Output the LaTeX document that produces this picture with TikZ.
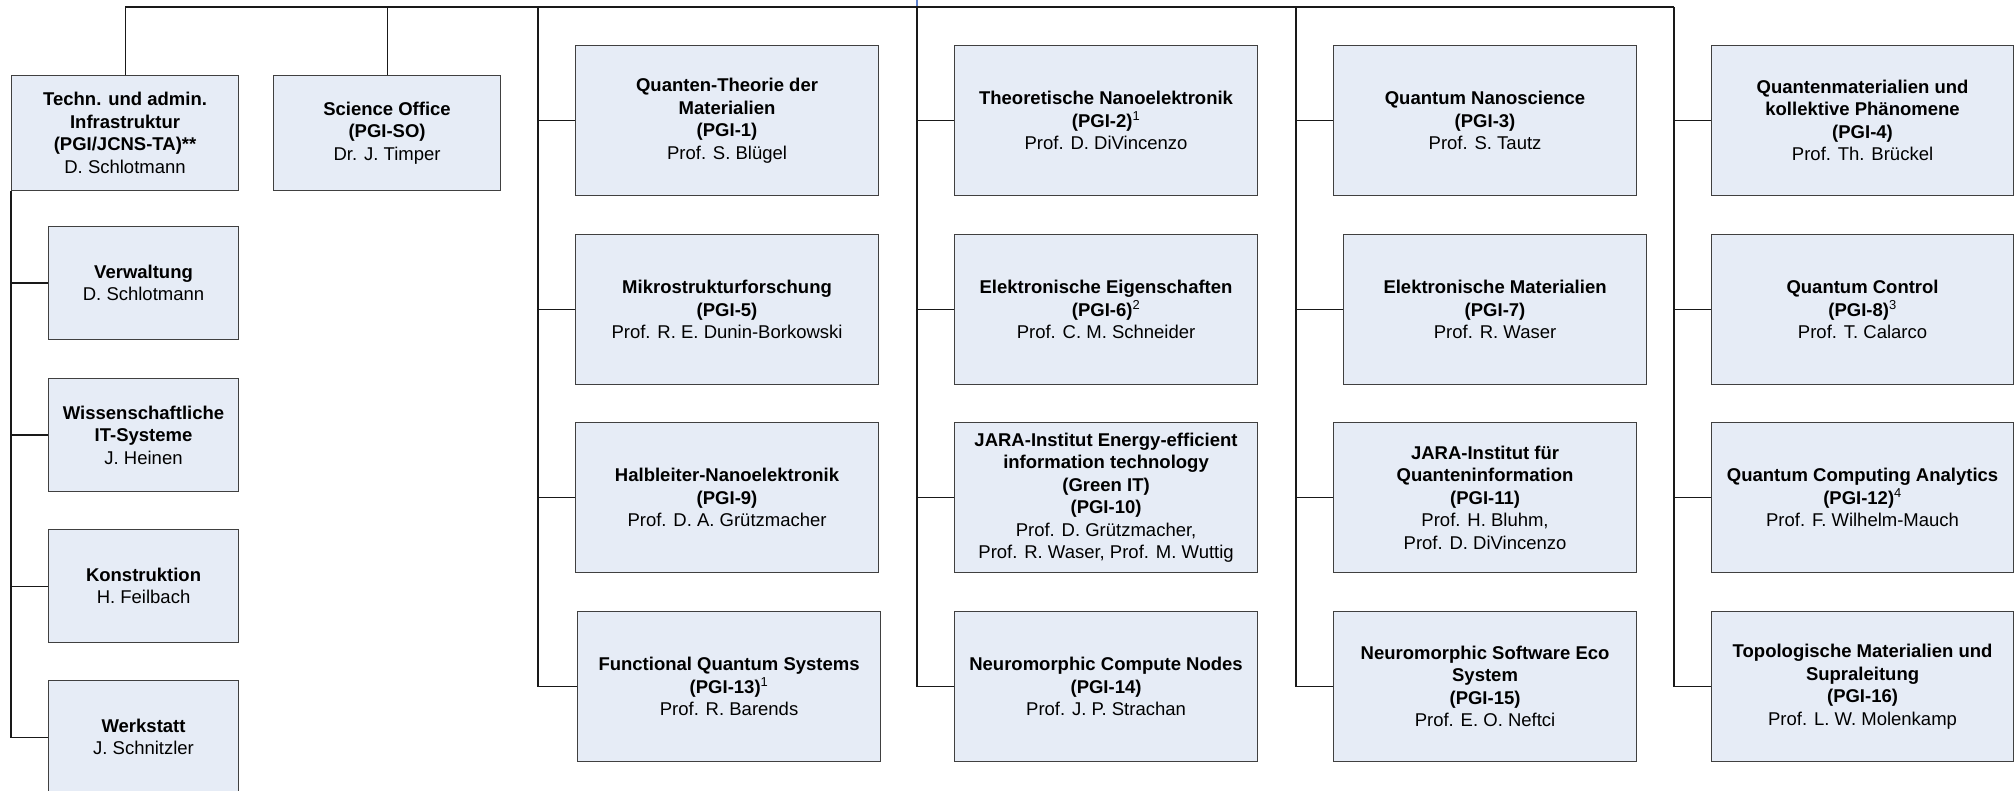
\documentclass[tikz,border=0pt]{standalone}
\usepackage{fontspec}
\setmainfont{Liberation Sans}

\definecolor{unitfill}{RGB}{230,236,246}
\definecolor{parentblue}{RGB}{95,130,205}

\begin{document}
\begin{tikzpicture}[
        x=1pt, y=-1pt,
        every node/.style={font=\fontsize{18.5}{22.5}\selectfont},
        unit/.style={draw=black!75, fill=unitfill, line width=1.1pt, anchor=north west, align=center, minimum width=303pt, minimum height=150pt, inner sep=0pt},
        small unit/.style={unit, minimum width=227pt, minimum height=115pt},
        sub unit/.style={unit, minimum width=190pt, minimum height=113pt},
        link/.style={draw=black!90, line width=1.1pt}
        ]
    \useasboundingbox (0,0) rectangle (2014,791);
    \clip (0,0) rectangle (2014,791);

    % tops of the branches
    \coordinate (parent) at (917,0);
    \coordinate (top1) at (538,7);
    \coordinate (top2) at (917,7);
    \coordinate (top3) at (1296,7);
    \coordinate (top4) at (1674,7);

    % left part
    \node[small unit] (techn) at (11,75) {\textbf{Techn. und admin.}\\\textbf{Infrastruktur}\\\textbf{(PGI/JCNS-TA)**}\\D. Schlotmann};
    \node[small unit] (office) at (273,75) {\textbf{Science Office}\\\textbf{(PGI-SO)}\\Dr. J. Timper};
    \node[sub unit] (verw) at (48,226) {\textbf{Verwaltung}\\D. Schlotmann};
    \node[sub unit] (wiss) at (48,378) {\textbf{Wissenschaftliche}\\\textbf{IT-Systeme}\\J. Heinen};
    \node[sub unit] (konstr) at (48,529) {\textbf{Konstruktion}\\H. Feilbach};
    \node[sub unit] (werk) at (48,680) {\textbf{Werkstatt}\\J. Schnitzler};

    % institutes
    \node[unit] (pgi1) at (575,45) {\textbf{Quanten-Theorie der}\\\textbf{Materialien}\\\textbf{(PGI-1)}\\Prof. S. Blügel};
    \node[unit] (pgi5) at (575,234) {\textbf{Mikrostrukturforschung}\\\textbf{(PGI-5)}\\Prof. R. E. Dunin-Borkowski};
    \node[unit] (pgi9) at (575,422) {\textbf{Halbleiter-Nanoelektronik}\\\textbf{(PGI-9)}\\Prof. D. A. Grützmacher};
    \node[unit] (pgi13) at (577,611) {\textbf{Functional Quantum Systems}\\\textbf{(PGI-13)}\textsuperscript{1}\\Prof. R. Barends};

    \node[unit] (pgi2) at (954,45) {\textbf{Theoretische Nanoelektronik}\\\textbf{(PGI-2)}\textsuperscript{1}\\Prof. D. DiVincenzo};
    \node[unit] (pgi6) at (954,234) {\textbf{Elektronische Eigenschaften}\\\textbf{(PGI-6)}\textsuperscript{2}\\Prof. C. M. Schneider};
    \node[unit] (pgi10) at (954,422) {\textbf{JARA-Institut Energy-efficient}\\\textbf{information technology}\\\textbf{(Green IT)}\\\textbf{(PGI-10)}\\Prof. D. Grützmacher,\\Prof. R. Waser, Prof. M. Wuttig};
    \node[unit] (pgi14) at (954,611) {\textbf{Neuromorphic Compute Nodes}\\\textbf{(PGI-14)}\\Prof. J. P. Strachan};

    \node[unit] (pgi3) at (1333,45) {\textbf{Quantum Nanoscience}\\\textbf{(PGI-3)}\\Prof. S. Tautz};
    \node[unit] (pgi7) at (1343,234) {\textbf{Elektronische Materialien}\\\textbf{(PGI-7)}\\Prof. R. Waser};
    \node[unit] (pgi11) at (1333,422) {\textbf{JARA-Institut für}\\\textbf{Quanteninformation}\\\textbf{(PGI-11)}\\Prof. H. Bluhm,\\Prof. D. DiVincenzo};
    \node[unit] (pgi15) at (1333,611) {\textbf{Neuromorphic Software Eco}\\\textbf{System}\\\textbf{(PGI-15)}\\Prof. E. O. Neftci};

    \node[unit, minimum width=302pt] (pgi4) at (1711,45) {\textbf{Quantenmaterialien und}\\\textbf{kollektive Phänomene}\\\textbf{(PGI-4)}\\Prof. Th. Brückel};
    \node[unit, minimum width=302pt] (pgi8) at (1711,234) {\textbf{Quantum Control}\\\textbf{(PGI-8)}\textsuperscript{3}\\Prof. T. Calarco};
    \node[unit, minimum width=302pt] (pgi12) at (1711,422) {\textbf{Quantum Computing Analytics}\\\textbf{(PGI-12)}\textsuperscript{4}\\Prof. F. Wilhelm-Mauch};
    \node[unit, minimum width=302pt] (pgi16) at (1711,611) {\textbf{Topologische Materialien und}\\\textbf{Supraleitung}\\\textbf{(PGI-16)}\\Prof. L. W. Molenkamp};

    % connectors
    \draw[parentblue, line width=1.1pt] (parent) -- (top2);
    \draw[link] (techn.north |- top4) -- (top4);
    \draw[link] (techn.north |- top4) -- (techn.north);
    \draw[link] (office.north |- top4) -- (office.north);

    \draw[link] (techn.south west) |- (werk.west);
    \draw[link] (techn.south west |- verw.west) -- (verw.west);
    \draw[link] (techn.south west |- wiss.west) -- (wiss.west);
    \draw[link] (techn.south west |- konstr.west) -- (konstr.west);

    \draw[link] (top1) |- (pgi13.west);
    \draw[link] (top1 |- pgi1.west) -- (pgi1.west);
    \draw[link] (top1 |- pgi5.west) -- (pgi5.west);
    \draw[link] (top1 |- pgi9.west) -- (pgi9.west);

    \draw[link] (top2) |- (pgi14.west);
    \draw[link] (top2 |- pgi2.west) -- (pgi2.west);
    \draw[link] (top2 |- pgi6.west) -- (pgi6.west);
    \draw[link] (top2 |- pgi10.west) -- (pgi10.west);

    \draw[link] (top3) |- (pgi15.west);
    \draw[link] (top3 |- pgi3.west) -- (pgi3.west);
    \draw[link] (top3 |- pgi7.west) -- (pgi7.west);
    \draw[link] (top3 |- pgi11.west) -- (pgi11.west);

    \draw[link] (top4) |- (pgi16.west);
    \draw[link] (top4 |- pgi4.west) -- (pgi4.west);
    \draw[link] (top4 |- pgi8.west) -- (pgi8.west);
    \draw[link] (top4 |- pgi12.west) -- (pgi12.west);
\end{tikzpicture}
\end{document}
